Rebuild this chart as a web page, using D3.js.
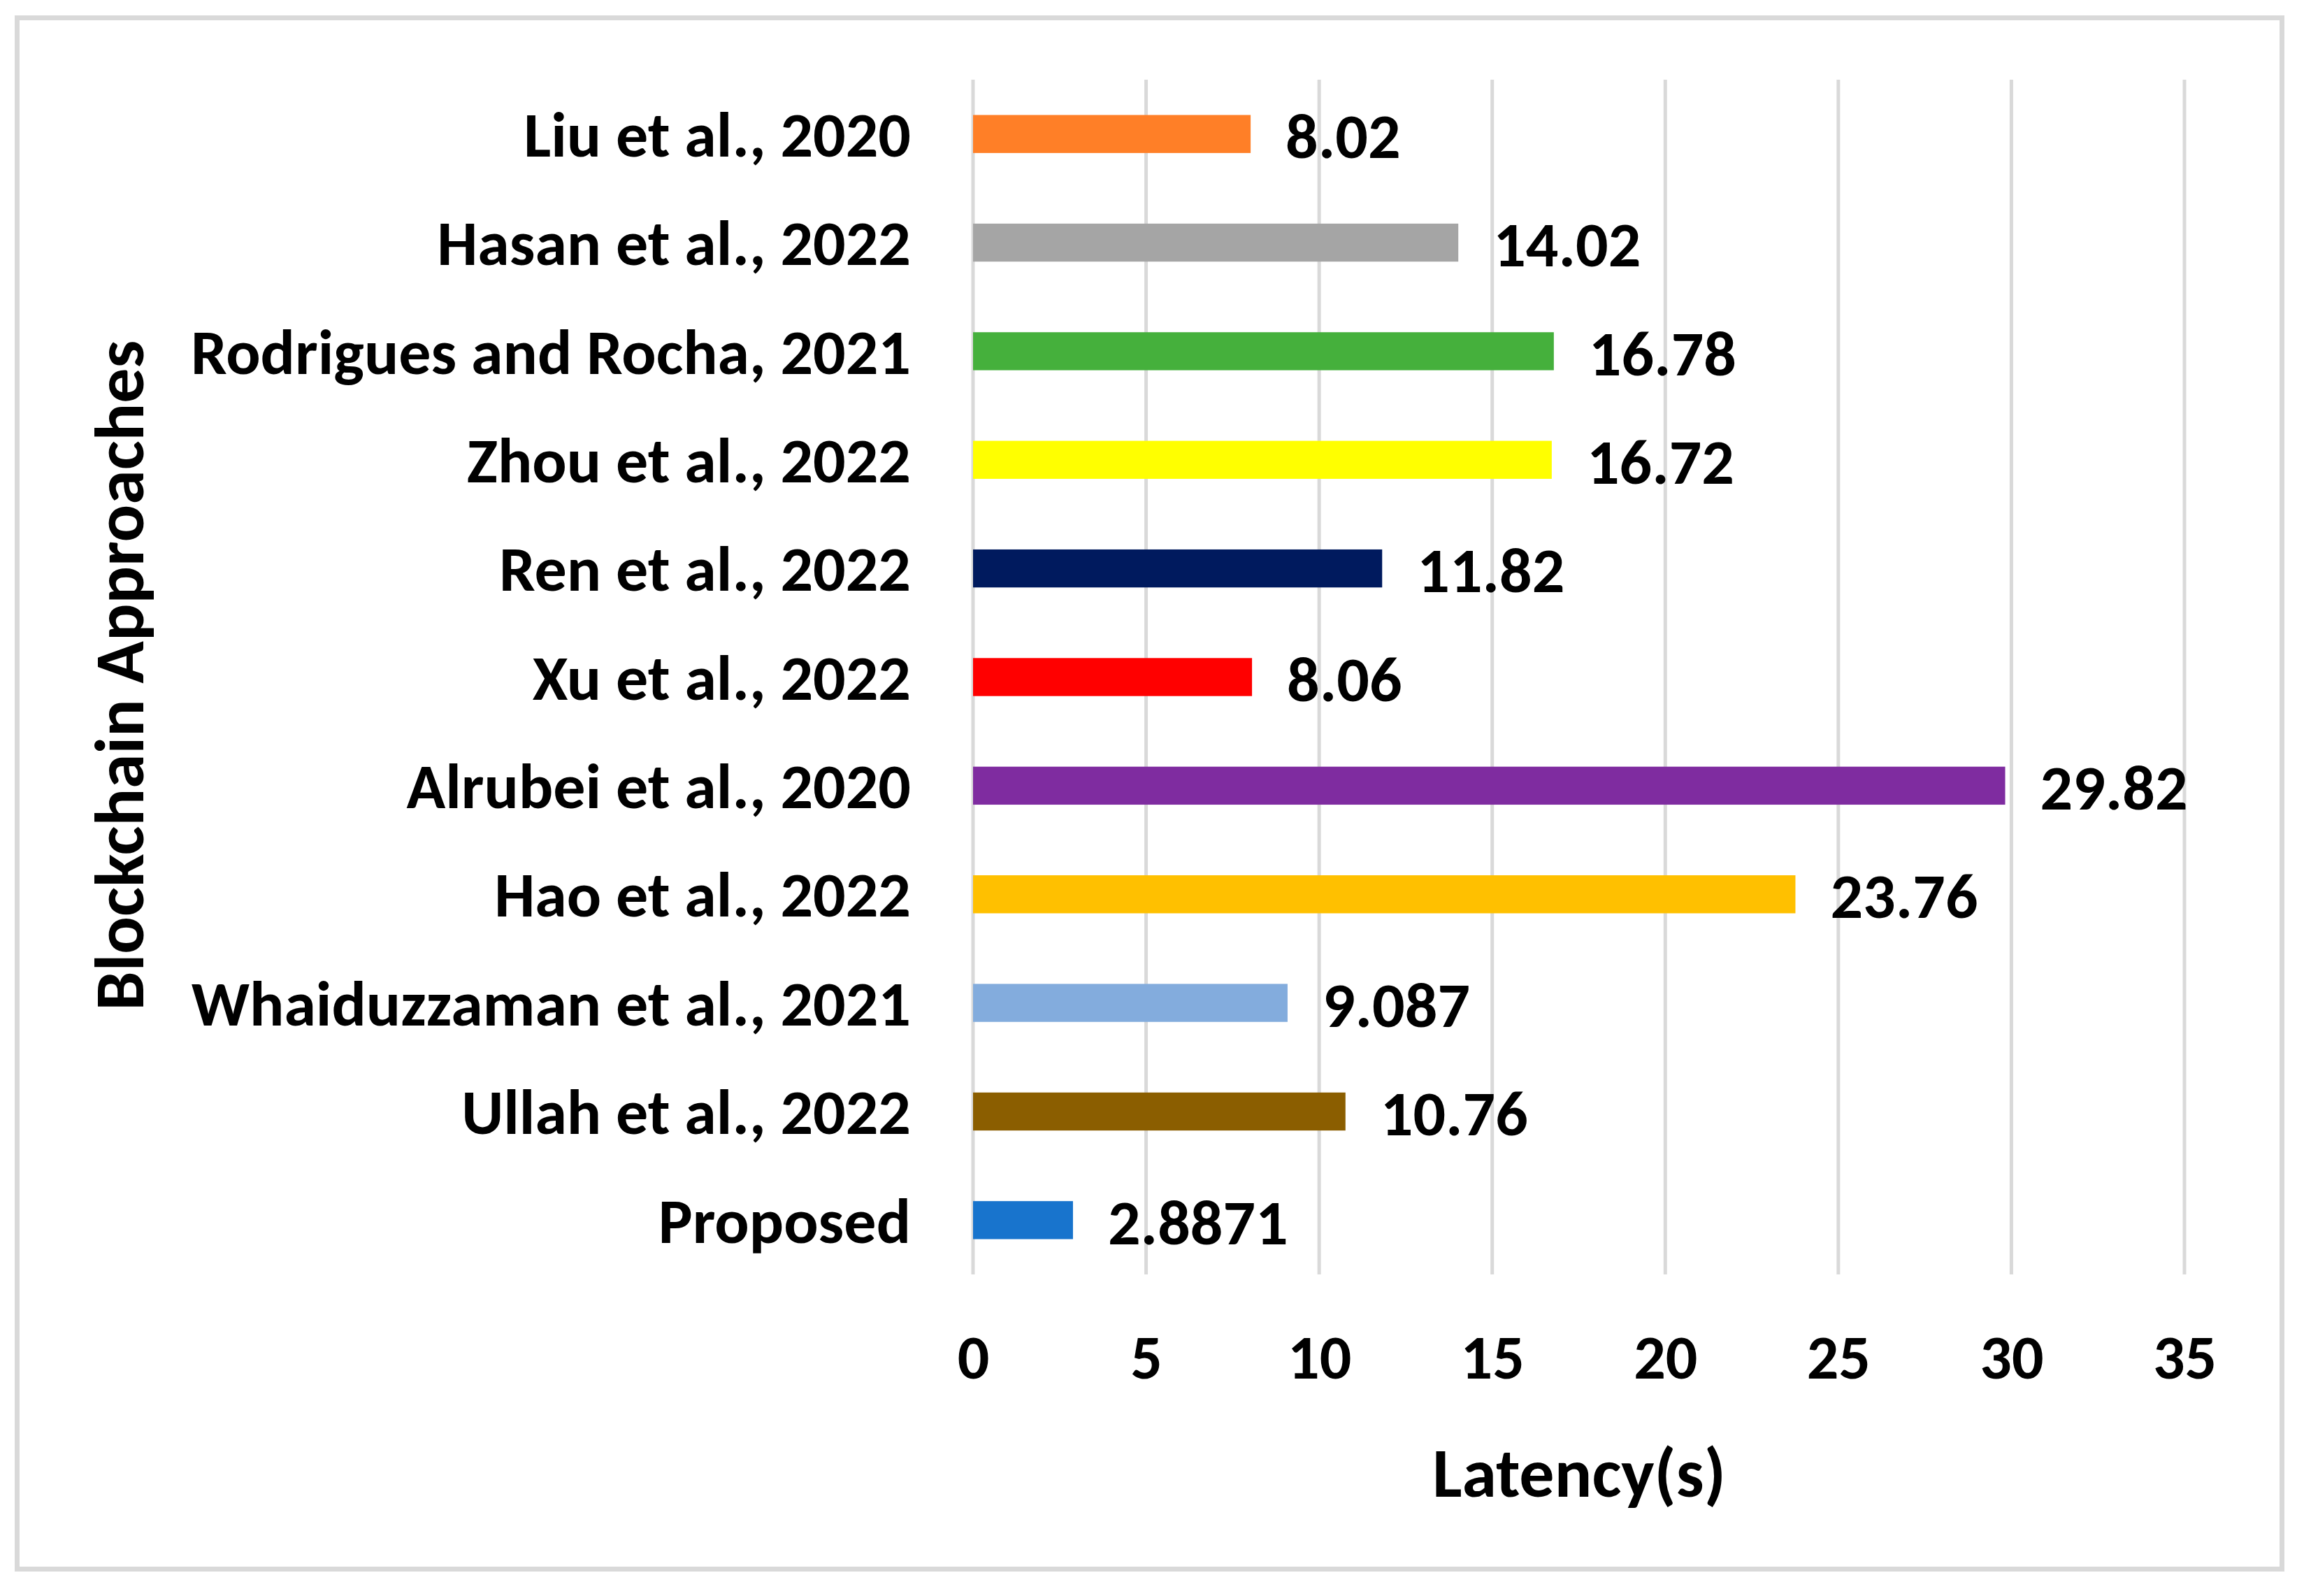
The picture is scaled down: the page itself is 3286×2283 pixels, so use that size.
<!DOCTYPE html>
<html lang="en">
<head>
  <meta charset="UTF-8">
  <title>latency</title>
  <script src="https://d3js.org/d3.v7.min.js"></script>
  <style>
    body {
      margin: 0;
      padding: 0;
      background: #fff;
    }
    text {
      font-family: Carlito, Calibri, Lato, sans-serif;
      font-weight: bold;
      fill: #000;
    }
  </style>
</head>
<body>
  <div id="chart"></div>
<script>
  // data, top to bottom
  const approaches = [
    'Liu et al., 2020',
    'Hasan et al., 2022',
    'Rodrigues and Rocha, 2021',
    'Zhou et al., 2022',
    'Ren et al., 2022',
    'Xu et al., 2022',
    'Alrubei et al., 2020',
    'Hao et al., 2022',
    'Whaiduzzaman et al., 2021',
    'Ullah et al., 2022',
    'Proposed'
  ]
  const latency = [8.02, 14.02, 16.78, 16.72, 11.82, 8.06, 29.82, 23.76, 9.087, 10.76, 2.8871]
  const valueLabels = ['8.02', '14.02', '16.78', '16.72', '11.82', '8.06', '29.82', '23.76', '9.087', '10.76', '2.8871']
  const barColors = ['#ff7f27', '#a5a5a5', '#45b03c', '#ffff00', '#001a5e', '#ff0000',
                     '#7f2ca0', '#ffc000', '#83acdd', '#8b5e00', '#1874cd']
  const xTicks = [0, 5, 10, 15, 20, 25, 30, 35]

  const width = 3286
  const height = 2283
  const plot = { left: 1392, right: 3125, top: 114, bottom: 1823 }

  const svg = d3.select('#chart')
    .append('svg')
    .attr('width', width)
    .attr('height', height)
    .attr('viewBox', `0 0 ${width} ${height}`)

  // outer frame
  svg.append('rect')
    .attr('x', 24.5)
    .attr('y', 25.5)
    .attr('width', 3240)
    .attr('height', 2219)
    .attr('fill', '#fff')
    .attr('stroke', '#d9d9d9')
    .attr('stroke-width', 7)

  const x = d3.scaleLinear()
    .domain([0, 35])
    .range([plot.left, plot.right])

  const y = d3.scaleBand()
    .domain(approaches)
    .range([plot.top, plot.bottom])
    .paddingInner(0.65)
    .paddingOuter(0.325)

  // vertical gridlines
  svg.append('g')
    .selectAll('line')
    .data(xTicks)
    .join('line')
    .attr('x1', d => x(d))
    .attr('x2', d => x(d))
    .attr('y1', plot.top)
    .attr('y2', plot.bottom)
    .attr('stroke', '#d9d9d9')
    .attr('stroke-width', 5)

  // x tick labels
  const xAxis = svg.append('g')
    .attr('transform', `translate(0, ${1940})`)
    .call(d3.axisBottom(x).tickValues(xTicks).tickSize(0).tickPadding(0))
  xAxis.select('.domain').remove()
  xAxis.selectAll('text')
    .attr('font-size', 90)
    .attr('dy', '0.35em')
    .style('font-family', 'Carlito, Calibri, Lato, sans-serif')
    .style('font-weight', 'bold')
    .attr('fill', '#000')

  // category labels
  const yAxis = svg.append('g')
    .attr('transform', `translate(${1303}, 0)`)
    .call(d3.axisLeft(y).tickSize(0).tickPadding(0))
  yAxis.select('.domain').remove()
  yAxis.selectAll('text')
    .attr('font-size', 92)
    .attr('dy', '0.35em')
    .style('font-family', 'Carlito, Calibri, Lato, sans-serif')
    .style('font-weight', 'bold')
    .attr('fill', '#000')

  const rows = approaches.map((a, i) => ({ name: a, v: latency[i], label: valueLabels[i], color: barColors[i] }))

  // bars
  svg.append('g')
    .selectAll('rect')
    .data(rows)
    .join('rect')
    .attr('x', x(0))
    .attr('y', d => y(d.name))
    .attr('width', d => x(d.v) - x(0))
    .attr('height', y.bandwidth())
    .attr('fill', d => d.color)

  // value labels
  svg.append('g')
    .selectAll('text')
    .data(rows)
    .join('text')
    .attr('x', d => x(d.v) + 50)
    .attr('y', d => y(d.name) + y.bandwidth() / 2 + 2)
    .attr('dy', '0.35em')
    .attr('font-size', 92)
    .text(d => d.label)

  // axis titles
  svg.append('text')
    .attr('x', 2259)
    .attr('y', 2106)
    .attr('dy', '0.35em')
    .attr('text-anchor', 'middle')
    .attr('font-size', 100)
    .text('Latency(s)')

  svg.append('text')
    .attr('transform', `translate(170, 966) rotate(-90)`)
    .attr('dy', '0.35em')
    .attr('text-anchor', 'middle')
    .attr('font-size', 100)
    .text('Blockchain Approaches')
</script>
</body>
</html>
